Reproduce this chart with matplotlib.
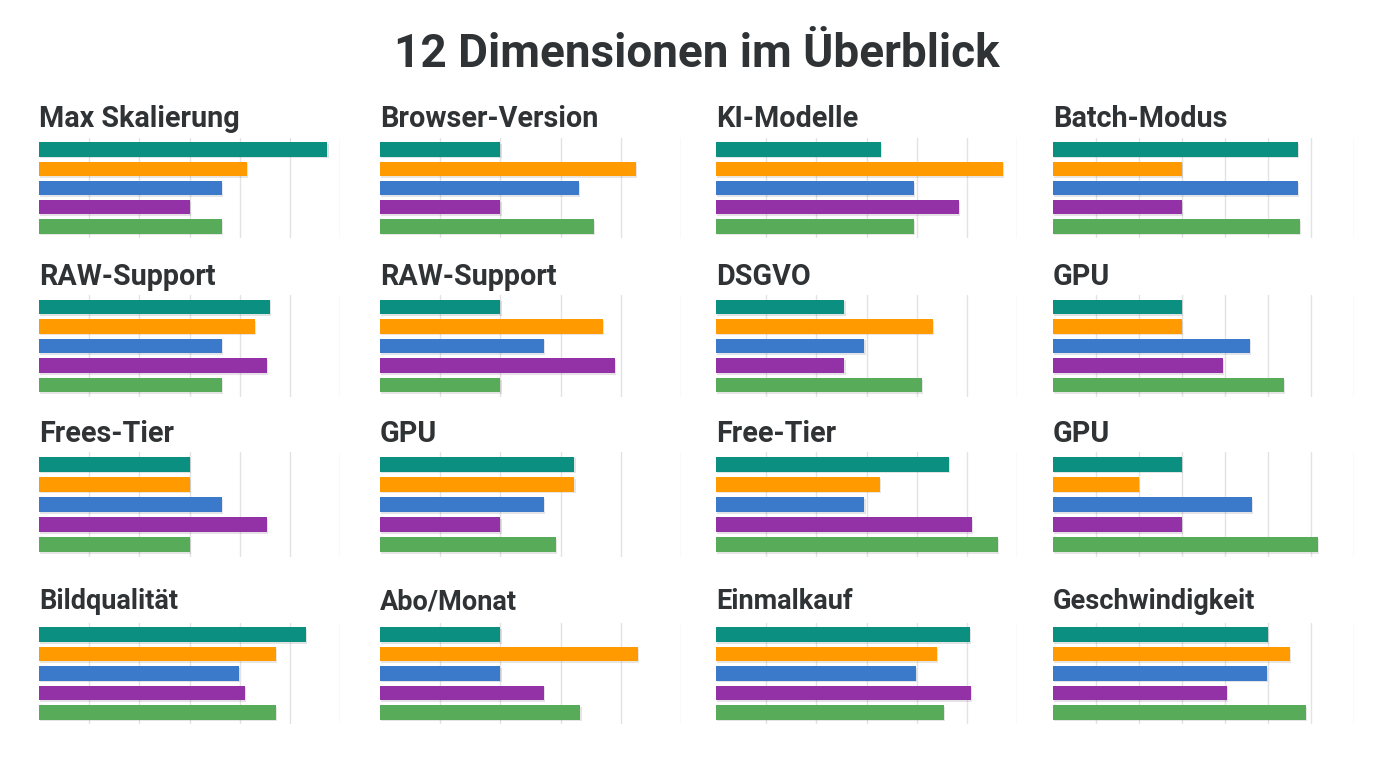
import matplotlib.pyplot as plt
import matplotlib.patheffects as pe

# panel titles, row by row
titles = ['Max Skalierung', 'Browser-Version', 'KI-Modelle', 'Batch-Modus',
          'RAW-Support', 'RAW-Support', 'DSGVO', 'GPU',
          'Frees-Tier', 'GPU', 'Free-Tier', 'GPU',
          'Bildqualität', 'Abo/Monat', 'Einmalkauf', 'Geschwindigkeit']

# axis maximum per column
col_max = [6, 5, 6, 7]

# series values (one entry per panel)
teal = [5.75, 2.0, 3.28, 5.7, 4.6, 2.0, 2.56, 3.0, 3.0, 3.23, 4.64, 3.0, 5.33, 2.0, 5.06, 5.0]
orange = [4.15, 4.25, 5.72, 3.0, 4.3, 3.7, 4.32, 3.0, 3.0, 3.23, 3.26, 2.0, 4.73, 4.28, 4.4, 5.5]
blue = [3.65, 3.3, 3.95, 5.7, 3.65, 2.72, 2.96, 4.58, 3.64, 2.72, 2.96, 4.63, 3.98, 2.0, 3.98, 4.98]
purple = [3.0, 2.0, 4.85, 3.0, 4.55, 3.9, 2.56, 3.95, 4.54, 2.0, 5.1, 3.0, 4.1, 2.72, 5.08, 4.05]
green = [3.65, 3.55, 3.95, 5.75, 3.65, 2.0, 4.1, 5.37, 3.0, 2.93, 5.62, 6.16, 4.73, 3.33, 4.54, 5.88]

series = [teal, orange, blue, purple, green]
colors = ['#0b8f80', '#ff9a00', '#3b7acb', '#9332a6', '#58ab58']

plt.rcParams['font.family'] = ['Roboto', 'DejaVu Sans']

W, H = 1392, 768
fig = plt.figure(figsize=(W / 100, H / 100), dpi=100)
fig.patch.set_facecolor('white')

fig.text(697 / W, 1 - 54 / H, '12 Dimensionen im Überblick', ha='center', va='center',
         fontsize=33, fontweight='bold', color='#2f3335')

# pixel layout of the grid
lefts = [39, 380, 716, 1053]
width = 301
rows = [(138, 238), (295, 397), (452, 557), (623, 724)]
title_pads = [8, 7, 7, 10]
title_sizes = [20.7, 20.7, 20.7, 19.5]

shadow = [pe.SimplePatchShadow(offset=(0.8, -1.2), alpha=0.12), pe.Normal()]

for i, name in enumerate(titles):
    r, c = divmod(i, 4)
    top, bottom = rows[r]
    ax = fig.add_axes([lefts[c] / W, 1 - bottom / H, width / W, (bottom - top) / H])
    xmax = col_max[c]
    for k in range(1, xmax + 1):
        ax.axvline(k, color='#e3e3e3', lw=1, zorder=0)
    for j, s in enumerate(series):
        b = ax.barh(j, s[i], height=0.74, color=colors[j], zorder=2)
        for p in b:
            p.set_path_effects(shadow)
    ax.set_xlim(0, xmax)
    ax.set_ylim(4.6, -0.6)
    ax.set_xticks([])
    ax.set_yticks([])
    for sp in ax.spines.values():
        sp.set_visible(False)
    ax.set_title(name, loc='left', pad=title_pads[r], fontsize=title_sizes[r],
                 fontweight='bold', color='#2f3335')

plt.savefig('out.png', dpi=100, facecolor='white')
